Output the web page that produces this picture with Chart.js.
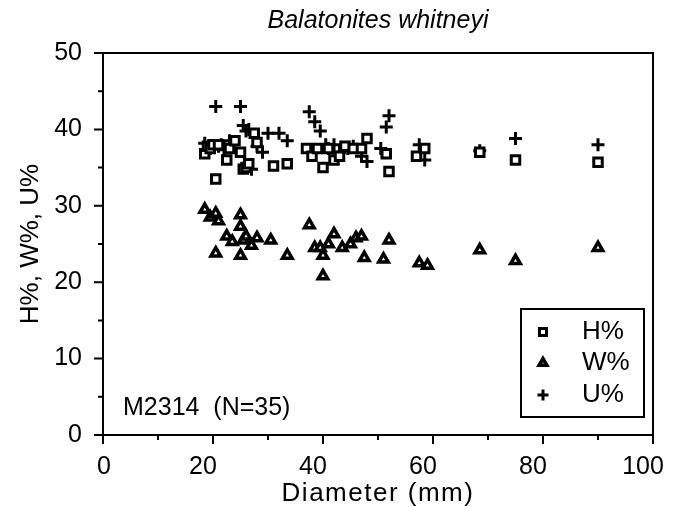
<!DOCTYPE html>
<html><head><meta charset="utf-8">
<script src="https://cdn.jsdelivr.net/npm/chart.js@4.4.0/dist/chart.umd.min.js"></script>
<style>html,body{margin:0;padding:0;background:#fff}#wrap{width:677px;height:507px}</style>
</head><body><div id="wrap"><canvas id="c" width="677" height="507"></canvas></div>
<script>
const TITLE = 'Balatonites whitneyi';
const X_TITLE = 'Diameter (mm)';
const Y_TITLE = 'H%, W%, U%';
const NOTE = 'M2314  (N=35)';
const SERIES_NAMES = ['H%', 'W%', 'U%'];
const X_TICKS = [0, 20, 40, 60, 80, 100];
const Y_TICKS = [0, 10, 20, 30, 40, 50];

const hDiam = [18.5,19,19.5,20,20.5,21,22.5,23,24,25,25.5,26,26.5,27.5,28,31,33.5,37,38,39,40,41,42,43,44,45.5,47,48,51.5,52,57,58.5,68.5,75,90];
const hVal  = [36.8,37.8,37.5,38,33.5,38,36,37.5,38.5,37,34.8,35,35.5,39.5,38.3,35.2,35.5,37.5,36.5,37.5,35,37.5,36,36.5,37.8,37.5,37.5,38.8,36.8,34.5,36.5,37.5,37,36,35.7];

const wDiam = [18.5,19.5,20.5,21,20.5,22.5,23.5,25,25,25,25.5,26,27,28,30.5,33.5,37.5,38.5,39.5,40,40,41,42,43.5,45,46,47,47.5,51,52,57.5,59,68.5,75,90];
const wVal  = [29.5,28.5,29,28,23.8,26,25.3,28.8,27.3,23.5,25.5,26,24.8,25.8,25.5,23.5,27.5,24.5,24.5,23.5,20.8,25,26.3,24.5,25,25.8,26,23.2,23,25.5,22.5,22.2,24.2,22.8,24.5];

const uDiam = [18.5,19.5,20.5,21,21.5,22,23,25,25.5,26,26.5,27,28,29,30,32,33.5,37.5,38.5,39.5,40.5,41,42,43,44.5,45.5,47,48,50.5,51.5,52,57.5,58.5,68.5,75,90];
const uVal  = [38.2,37.5,43,37.8,38,37.5,38.5,43,40.5,39.8,40,34.8,37.8,37,39.5,39.5,38.5,42.3,41,39.8,38,37.5,38,37,37.5,37.8,36.5,35.8,37.5,40.3,41.8,38,36,37.2,38.8,38];

const pts = (xs, ys) => xs.map((v, i) => ({x: v, y: ys[i]}));
const FONT = '"Liberation Sans", Arial, sans-serif';

const styles = [
  {pointStyle: 'rect', radius: 6, borderWidth: 3},
  {pointStyle: 'triangle', radius: 5.5, borderWidth: 3.5},
  {pointStyle: 'cross', radius: 6.5, borderWidth: 3}
];

const deco = {
  id: 'deco',
  afterDraw(chart) {
    const {ctx, chartArea: a, scales: {x, y}} = chart;
    ctx.save();
    ctx.strokeStyle = '#000';
    ctx.fillStyle = '#000';
    ctx.lineWidth = 2;
    ctx.strokeRect(a.left, a.top, a.right - a.left, a.bottom - a.top);
    ctx.beginPath();
    for (let v = 0; v <= 100; v += 10) {
      const px = x.getPixelForValue(v);
      const len = v % 20 === 0 ? 9 : 5;
      ctx.moveTo(px, a.bottom); ctx.lineTo(px, a.bottom + len);
    }
    for (let v = 0; v <= 50; v += 5) {
      const py = y.getPixelForValue(v);
      const len = v % 10 === 0 ? 9 : 5;
      ctx.moveTo(a.left - len, py); ctx.lineTo(a.left, py);
    }
    ctx.stroke();
    // x tick labels
    ctx.font = '25px ' + FONT;
    ctx.textAlign = 'center';
    ctx.textBaseline = 'middle';
    X_TICKS.forEach(v => {
      const off = v === 0 ? 1 : -10;
      ctx.fillText(String(v), x.getPixelForValue(v) + off, 467);
    });
    // x title
    ctx.font = '26px ' + FONT;
    if ('letterSpacing' in ctx) ctx.letterSpacing = '1.5px';
    ctx.fillText(X_TITLE, (a.left + a.right) / 2, 494);
    if ('letterSpacing' in ctx) ctx.letterSpacing = '0px';
    // title
    ctx.font = 'italic 25px ' + FONT;
    ctx.fillText(TITLE, (a.left + a.right) / 2, 21);
    // note
    ctx.font = '25px ' + FONT;
    ctx.textAlign = 'left';
    ctx.fillText(NOTE, a.left + 20, 408);
    // legend
    ctx.lineWidth = 2;
    ctx.strokeRect(521, 309, 123, 108);
    const ys = [332, 363, 395];
    SERIES_NAMES.forEach((name, i) => {
      ctx.fillStyle = '#fff';
      ctx.strokeStyle = '#000';
      ctx.lineWidth = styles[i].borderWidth;
      Chart.helpers.drawPoint(ctx, {pointStyle: styles[i].pointStyle, radius: styles[i].radius - 1, borderWidth: styles[i].borderWidth, rotation: 0}, 543, ys[i]);
      ctx.fillStyle = '#000';
      ctx.font = '26px ' + FONT;
      ctx.textAlign = 'left';
      ctx.fillText(name, 582, ys[i]);
    });
    ctx.restore();
  }
};

new Chart(document.getElementById('c'), {
  type: 'scatter',
  data: {
    datasets: [
      {label: SERIES_NAMES[0], data: pts(hDiam, hVal)},
      {label: SERIES_NAMES[1], data: pts(wDiam, wVal)},
      {label: SERIES_NAMES[2], data: pts(uDiam, uVal)}
    ].map((d, i) => Object.assign(d, {
      pointStyle: styles[i].pointStyle,
      pointRadius: styles[i].radius,
      pointHoverRadius: styles[i].radius,
      pointBorderWidth: styles[i].borderWidth,
      borderColor: '#000',
      backgroundColor: '#fff'
    }))
  },
  options: {
    responsive: false,
    animation: false,
    devicePixelRatio: 1,
    layout: {padding: {top: 53, right: 24, left: 0, bottom: 0}},
    plugins: {legend: {display: false}, tooltip: {enabled: false}, title: {display: false}},
    scales: {
      x: {
        type: 'linear', min: 0, max: 100,
        afterFit: s => { s.height = 72; },
        afterBuildTicks: s => { s.ticks = X_TICKS.map(v => ({value: v})); },
        grid: {display: false}, border: {display: false},
        ticks: {display: false},
        title: {display: false, text: X_TITLE}
      },
      y: {
        min: 0, max: 50,
        afterFit: s => { s.width = 103; },
        afterBuildTicks: s => { s.ticks = Y_TICKS.map(v => ({value: v})); },
        grid: {display: false}, border: {display: false},
        ticks: {color: '#000', font: {family: FONT, size: 25}, padding: 13},
        title: {display: true, text: Y_TITLE, color: '#000', font: {family: FONT, size: 26}, padding: {top: 15, bottom: 0}}
      }
    }
  },
  plugins: [deco]
});
</script></body></html>
